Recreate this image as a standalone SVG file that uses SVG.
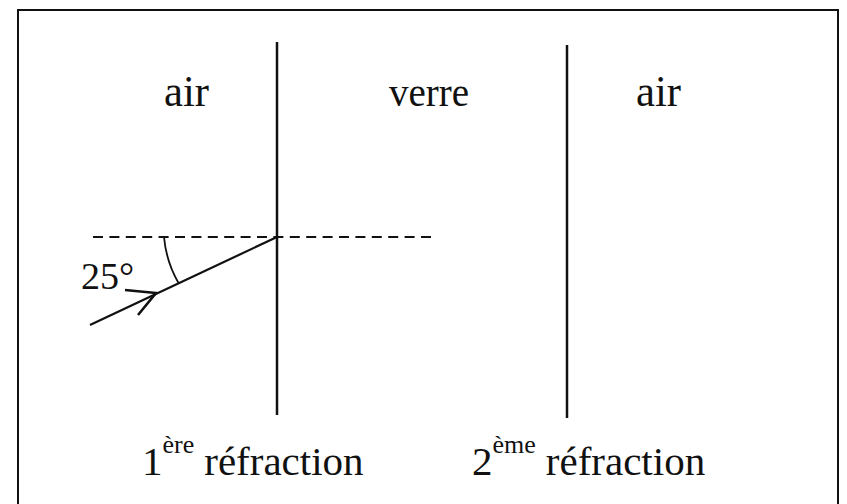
<svg xmlns="http://www.w3.org/2000/svg" width="847" height="504" viewBox="0 0 847 504">
<style>
.ln{stroke:#111;fill:none}
text{fill:#111}
</style>
<rect width="847" height="504" fill="#fff"/>
<g id="frame"><rect x="18" y="10" width="820" height="510" class="ln" stroke-width="2"/></g>
<g id="interface1"><line x1="277" y1="42" x2="277" y2="415" class="ln" stroke-width="2.5"/></g>
<g id="interface2"><line x1="567" y1="45" x2="567" y2="418" class="ln" stroke-width="2.5"/></g>
<g id="labels" font-family="Liberation Serif, Times New Roman, serif">
<text x="164" y="106" font-size="44" textLength="45" lengthAdjust="spacingAndGlyphs">air</text>
<text x="389" y="106" font-size="42" textLength="80" lengthAdjust="spacingAndGlyphs">verre</text>
<text x="636" y="106" font-size="44" textLength="45" lengthAdjust="spacingAndGlyphs">air</text>
<text x="81" y="289" font-size="38">25°</text>
<text x="142" y="475" font-size="41">1<tspan font-size="26" dy="-22">ère</tspan><tspan dy="22" dx="10">réfraction</tspan></text>
<text x="472" y="475" font-size="41">2<tspan font-size="26" dy="-22">ème</tspan><tspan dy="22" dx="10">réfraction</tspan></text>
</g>
<g id="connectors">
<line x1="93" y1="237" x2="437" y2="237" class="ln" stroke-width="2" stroke-dasharray="10 6.4"/>
<line x1="90" y1="325" x2="277" y2="237" class="ln" stroke-width="2.2"/>
<path d="M125,290 L156,293 L138,315" class="ln" stroke-width="2.6" stroke-linejoin="miter"/>
<path d="M164,237 A113,113 0 0 0 178.5,283" class="ln" stroke-width="1.8"/>
</g>
</svg>
